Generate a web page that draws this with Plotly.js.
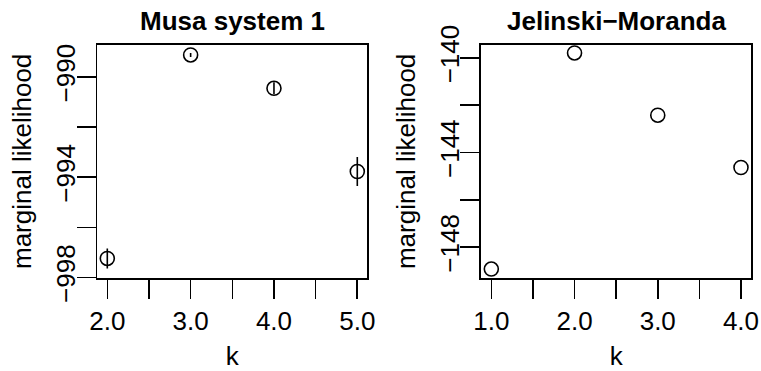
<!DOCTYPE html>
<html>
<head>
<meta charset="utf-8">
<script src="https://cdn.plot.ly/plotly-3.0.1.min.js"></script>
<style>html,body{margin:0;padding:0;background:#fff;}#chart{width:761px;height:371px;}</style>
</head>
<body>
<div id="chart"></div>
<script>
// Left panel: Musa system 1
const musaK = [2, 3, 4, 5];
const musaML = [-997.24, -989.12, -990.45, -993.77];
const musaErr = [0.40, 0.08, 0.24, 0.58];
// Right panel: Jelinski-Moranda
const jmK = [1, 2, 3, 4];
const jmML = [-148.92, -139.79, -142.42, -144.63];

const musaXTicks = [2, 2.5, 3, 3.5, 4, 4.5, 5];
const musaXText = ["2.0", "", "3.0", "", "4.0", "", "5.0"];
const musaYTicks = [-998, -996, -994, -992, -990];
const musaYText = ["\u2212998", "", "\u2212994", "", "\u2212990"];
const jmXTicks = [1, 1.5, 2, 2.5, 3, 3.5, 4];
const jmXText = ["1.0", "", "2.0", "", "3.0", "", "4.0"];
const jmYTicks = [-148, -146, -144, -142, -140];
const jmYText = ["\u2212148", "", "\u2212144", "", "\u2212140"];

const W = 761, H = 371;
const FONT = "Liberation Sans, Arial, Helvetica, sans-serif";
const fs = 26;

const marker = {symbol: "circle-open", size: 14, color: "black", line: {width: 1.6, color: "black"}};

const traces = [
  {x: musaK, y: musaML, type: "scatter", mode: "markers", marker: marker,
   error_y: {type: "data", array: musaErr, visible: true, thickness: 1.6, width: 0, color: "black"},
   xaxis: "x", yaxis: "y", hoverinfo: "none"},
  {x: jmK, y: jmML, type: "scatter", mode: "markers", marker: marker,
   xaxis: "x2", yaxis: "y2", hoverinfo: "none"}
];

function ax(domain, range, vals, text, extra) {
  return Object.assign({
    domain: domain, range: range, tickmode: "array", tickvals: vals, ticktext: text,
    showline: true, mirror: true, linecolor: "black", linewidth: 1.6,
    ticks: "outside", ticklen: 19, tickwidth: 1.6, tickcolor: "black",
    showgrid: false, zeroline: false, fixedrange: true,
    tickfont: {family: FONT, size: fs, color: "black"}
  }, extra || {});
}

const yDom = [(H - 278) / H, (H - 44.7) / H];

const layout = {
  width: W, height: H,
  margin: {l: 0, r: 0, t: 0, b: 0},
  paper_bgcolor: "white", plot_bgcolor: "white",
  showlegend: false,
  font: {family: FONT, size: fs, color: "black"},
  xaxis: ax([97.3 / W, 367.3 / W], [1.88, 5.12], musaXTicks, musaXText,
    {anchor: "y", title: {text: "k", font: {family: FONT, size: fs}, standoff: 14}}),
  yaxis: ax(yDom, [-998.02, -988.71], musaYTicks, musaYText,
    {anchor: "x", tickangle: -90, ticklabelstandoff: -9,
     title: {text: "marginal likelihood", font: {family: FONT, size: fs}, standoff: 12}}),
  xaxis2: ax([481 / W, 751.3 / W], [0.876, 4.124], jmXTicks, jmXText,
    {anchor: "y2", title: {text: "k", font: {family: FONT, size: fs}, standoff: 14}}),
  yaxis2: ax(yDom, [-149.30, -139.44], jmYTicks, jmYText,
    {anchor: "x2", tickangle: -90, ticklabelstandoff: -9,
     title: {text: "marginal likelihood", font: {family: FONT, size: fs}, standoff: 12}}),
  annotations: [
    {text: "<b>Musa system 1</b>", xref: "paper", yref: "paper", x: 232.3 / W, y: (H - 21) / H,
     xanchor: "center", yanchor: "middle", showarrow: false, font: {family: FONT, size: 26, color: "black"}},
    {text: "<b>Jelinski\u2212Moranda</b>", xref: "paper", yref: "paper", x: 616.2 / W, y: (H - 21) / H,
     xanchor: "center", yanchor: "middle", showarrow: false, font: {family: FONT, size: 26, color: "black"}}
  ]
};

Plotly.newPlot("chart", traces, layout, {staticPlot: true, displayModeBar: false});
</script>
</body>
</html>
